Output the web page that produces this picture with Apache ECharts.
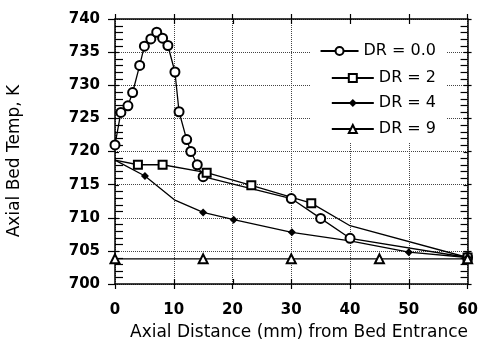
<!DOCTYPE html>
<html>
<head>
<meta charset="utf-8">
<script src="https://cdn.jsdelivr.net/npm/echarts@6/dist/echarts.min.js"></script>
<style>
  html, body { margin: 0; padding: 0; background: #fff; }
  #chart { width: 481px; height: 341px; }
</style>
</head>
<body>
<div id="chart"></div>
<script>
// values
const seriesNames = ['DR = 0.0', 'DR = 2', 'DR = 4', 'DR = 9']

const dr0X = [0, 1, 2.2, 3, 4.2, 5, 6.1, 7.1, 8.1, 9, 10.2, 10.9, 12.2, 12.9, 14, 15, 30, 35, 40, 60]
const dr0Y = [721, 725.9, 726.9, 728.9, 733, 735.9, 737, 738, 737.1, 736, 732, 726, 721.8, 720, 718, 716.2, 712.9, 709.9, 706.9, 704]

const dr2X = [0, 3.9, 8.1, 15.6, 23.2, 33.4, 40, 60]
const dr2Y = [718.7, 718, 718, 716.8, 714.9, 712.2, 708.8, 704]
const dr2Mark = [false, true, true, true, true, true, false, true]

const dr4X = [0, 5.1, 10.1, 15, 20.2, 30.1, 40, 50, 60]
const dr4Y = [718.7, 716.3, 712.7, 710.8, 709.7, 707.8, 706.5, 704.8, 704]
const dr4Mark = [false, true, false, true, true, true, false, true, true]

const dr9X = [0, 15, 30, 45, 60]
const dr9Y = [703.8, 703.8, 703.8, 703.8, 703.8]

// axis ticks
const xTicks = { min: 0, max: 60, interval: 10 }
const yTicks = { min: 700, max: 740, interval: 5 }
const yInnerTicks = [701, 702, 703, 704, 705, 706, 707, 708, 709, 710, 711, 712, 713, 714, 715, 716, 717, 718, 719,
  720, 721, 722, 723, 724, 725, 726, 727, 728, 729, 730, 731, 732, 733, 734, 735, 736, 737, 738, 739]
const xInnerTicks = [10, 20, 30, 40, 50]

const chart = echarts.init(document.getElementById('chart'))

const pairs = (xs, ys, marks) => xs.map((x, i) => {
  const item = { value: [x, ys[i]] }
  if (marks && !marks[i]) item.symbol = 'none'
  return item
})

const black = '#000'
const tickFont = { color: black, fontFamily: 'DejaVu Sans', fontWeight: 'bold', fontSize: 15 }
const dotted = { show: true, lineStyle: { color: '#444', width: 1, type: [1, 1] } }
const axisLine = { show: true, onZero: false, lineStyle: { color: black, width: 1.5 } }
const tick = (length) => ({ show: true, inside: false, length, lineStyle: { color: black, width: 1.2 } })

const lineSeries = (name, data, symbol, size) => ({
  name, type: 'line', data, symbol, symbolSize: size,
  lineStyle: { color: black, width: 1.3 },
  itemStyle: { color: black, borderWidth: 1.2 },
  emphasis: { disabled: true },
  z: 3
})

const tickLine = (x1, y1, x2, y2) => ({
  type: 'line', shape: { x1, y1, x2, y2 }, style: { stroke: black, lineWidth: 1.2 }
})

// inward tick marks on the left/right frame (minor every 1 K) and top/bottom frame
const yTickSeries = {
  type: 'custom', silent: true, z: 1,
  data: yInnerTicks.map(v => [xTicks.min, v]),
  renderItem: (params, api) => {
    const v = api.value(1)
    const l = api.coord([xTicks.min, v])
    const r = api.coord([xTicks.max, v])
    const major = v % yTicks.interval === 0
    const ly = Math.round(l[1]) + 0.5
    return { type: 'group', children: [
      tickLine(l[0], ly, l[0] + (major ? 4 : 8), ly),
      tickLine(r[0], ly, r[0] - (major ? 4 : 7), ly)
    ] }
  }
}
const xTickSeries = {
  type: 'custom', silent: true, z: 1,
  data: xInnerTicks.map(v => [v, yTicks.min]),
  renderItem: (params, api) => {
    const v = api.value(0)
    const b = api.coord([v, yTicks.min])
    const t = api.coord([v, yTicks.max])
    const lx = Math.round(b[0]) + 0.5
    return { type: 'group', children: [
      tickLine(lx, b[1], lx, b[1] - 5),
      tickLine(lx, t[1], lx, t[1] + 5)
    ] }
  }
}

const legendTops = [43, 70, 95, 121]
const legendWidths = [38, 42, 42, 42]

const option = {
  animation: false,
  grid: { left: 115, right: 10, top: 19, bottom: 57 },
  xAxis: [
    { type: 'value', ...xTicks, position: 'bottom', axisLine, axisTick: tick(5),
      axisLabel: { margin: 19, ...tickFont }, splitLine: dotted },
    { type: 'value', ...xTicks, position: 'top', axisLine, axisTick: tick(5),
      axisLabel: { show: false }, splitLine: { show: false } }
  ],
  yAxis: [
    { type: 'value', ...yTicks, position: 'left', axisLine, axisTick: tick(7),
      axisLabel: { margin: 15, ...tickFont }, splitLine: dotted },
    { type: 'value', ...yTicks, position: 'right', axisLine, axisTick: tick(4),
      axisLabel: { show: false }, splitLine: { show: false } }
  ],
  legend: seriesNames.map((n, i) => ({
    data: [n],
    orient: 'vertical',
    right: 45,
    top: legendTops[i],
    padding: 0,
    itemWidth: legendWidths[i],
    itemHeight: 10,
    itemGap: 0,
    selectedMode: false,
    textStyle: { color: black, fontFamily: 'DejaVu Sans', fontSize: 16 }
  })),
  graphic: [
    { type: 'rect', z: 3, shape: { x: 310, y: 24, width: 137, height: 118 }, style: { fill: '#fff' } },
    { type: 'text', x: 15, y: 161, rotation: Math.PI / 2,
      style: { text: 'Axial Bed Temp, K', fill: black, font: '17px "DejaVu Sans"', align: 'center', verticalAlign: 'middle' } },
    { type: 'text', x: 299, y: 333,
      style: { text: 'Axial Distance (mm) from Bed Entrance', fill: black, font: '17px "DejaVu Sans"', align: 'center', verticalAlign: 'middle' } }
  ],
  series: [
    lineSeries(seriesNames[0], pairs(dr0X, dr0Y), 'emptyCircle', 9),
    lineSeries(seriesNames[1], pairs(dr2X, dr2Y, dr2Mark), 'emptyRect', 8),
    lineSeries(seriesNames[2], pairs(dr4X, dr4Y, dr4Mark), 'diamond', 8),
    lineSeries(seriesNames[3], pairs(dr9X, dr9Y), 'emptyTriangle', 9),
    yTickSeries,
    xTickSeries
  ]
}

chart.setOption(option)
</script>
</body>
</html>
